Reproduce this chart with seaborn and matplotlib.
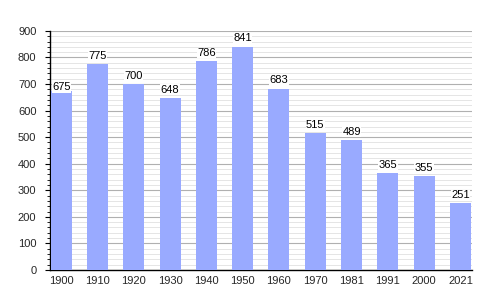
import matplotlib
matplotlib.use("Agg")
import matplotlib.pyplot as plt
import seaborn as sns
import pandas as pd
from matplotlib.ticker import MultipleLocator

years = ["1900", "1910", "1920", "1930", "1940", "1950", "1960", "1970", "1981", "1991", "2000", "2021"]
population = [675, 775, 700, 648, 786, 841, 683, 515, 489, 365, 355, 251]

df = pd.DataFrame({"year": years, "pop": population})

sns.set_style("white")
plt.rcParams["font.family"] = ["Liberation Sans", "DejaVu Sans"]

fig = plt.figure(figsize=(5, 3), dpi=100)
ax = fig.add_axes([0.1, 0.1, 0.844, 0.797])

sns.barplot(data=df, x="year", y="pop", color="#99aaff", saturation=1, width=0.58,
            linewidth=0, edgecolor="none", ax=ax, zorder=3)

for i, v in enumerate(population):
    off = -6 if i == 0 else 12
    ax.text(i, v + off, str(v), ha="center", va="bottom", fontsize=8, color="black", zorder=4,
            bbox=dict(facecolor="white", edgecolor="none", pad=0.3))

ax.set_ylim(0, 900)
ax.set_xlim(-0.31, 11.32)
ax.yaxis.set_major_locator(MultipleLocator(100))
ax.yaxis.set_minor_locator(MultipleLocator(20))
ax.grid(which="major", axis="y", color="#b0b0b0", linewidth=0.8, zorder=0)
ax.grid(which="minor", axis="y", color="#e0e0e0", linewidth=0.6, zorder=0)
ax.set_axisbelow(True)

for s in ["top", "right"]:
    ax.spines[s].set_visible(False)
for s in ["left", "bottom"]:
    ax.spines[s].set_color("black")
    ax.spines[s].set_linewidth(1)

ax.tick_params(axis="y", which="major", left=True, length=3.8, width=0.8, labelsize=8, color="black", pad=6)
ax.tick_params(axis="y", which="minor", left=True, length=2.2, width=0.6, color="black")
ax.tick_params(axis="x", bottom=False, length=0, labelsize=8, pad=4)
ax.set_xlabel("")
ax.set_ylabel("")

fig.savefig("out.png", dpi=100)
